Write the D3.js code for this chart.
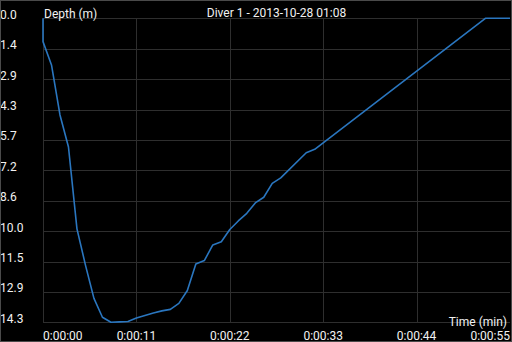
<!DOCTYPE html>
<html>
<head>
<meta charset="utf-8">
<script src="https://cdn.jsdelivr.net/npm/d3@7"></script>
<style>
  html, body { margin: 0; padding: 0; background: #000; }
  svg { display: block; }
  text { font-family: Roboto, "Noto Sans", sans-serif; fill: #f2f2f2; }
</style>
</head>
<body>
<svg id="chart" width="512" height="342"></svg>
<script>
// dive profile (seconds, metres)
let times  = [0, 0, 1, 2, 3, 4, 5, 6, 7, 8, 9, 10, 11, 12, 13, 14, 15, 16, 17, 18, 19, 20,
              21, 22, 23, 24, 25, 26, 27, 28, 31, 32, 52.1, 55];
let depths = [0, 1.10, 2.20, 4.56, 6.07, 9.93, 11.64, 13.21, 14.10, 14.34, 14.32, 14.30, 14.14,
              14.02, 13.90, 13.80, 13.73, 13.45, 12.84, 11.59, 11.43, 10.69, 10.54, 9.96, 9.56,
              9.20, 8.71, 8.44, 7.79, 7.53, 6.34, 6.18, 0, 0];

let xTicks = [0, 11, 22, 33, 44, 55];
let xTickLabels = ["0:00:00", "0:00:11", "0:00:22", "0:00:33", "0:00:44", "0:00:55"];
let yMax = 14.34;
let yTickLabels = ["0.0", "1.4", "2.9", "4.3", "5.7", "7.2", "8.6", "10.0", "11.5", "12.9", "14.3"];

let title = "Diver 1 - 2013-10-28 01:08";
let yTitle = "Depth (m)";
let xTitle = "Time (min)";

let svg = d3.select("#chart");

let x = d3.scaleLinear().domain([0, 55]).range([43, 510]);
let y = d3.scaleLinear().domain([0, yMax]).range([18.3, 322.3]);

let yTicks = yTickLabels.map((d, i) => i * yMax / 10);

// grid
svg.append("g").selectAll("line")
    .data(yTicks)
    .join("line")
    .attr("x1", x(0))
    .attr("x2", x(55))
    .attr("y1", d => Math.round(y(d)) + 0.5)
    .attr("y2", d => Math.round(y(d)) + 0.5)
    .attr("stroke", "#2e2e2e")
    .attr("stroke-width", 1);

svg.append("g").selectAll("line")
    .data(xTicks.slice(0, -1))
    .join("line")
    .attr("x1", d => Math.round(x(d)) + 0.5)
    .attr("x2", d => Math.round(x(d)) + 0.5)
    .attr("y1", y(0))
    .attr("y2", y(yMax))
    .attr("stroke", "#2e2e2e")
    .attr("stroke-width", 1);

// y labels
svg.append("g").selectAll("text")
    .data(yTicks)
    .join("text")
    .attr("x", 0)
    .attr("y", d => y(d) + 0.5)
    .attr("font-size", 12)
    .text((d, i) => yTickLabels[i]);

// x labels
svg.append("g").selectAll("text")
    .data(xTicks)
    .join("text")
    .attr("x", d => x(d))
    .attr("y", 339.5)
    .attr("font-size", 12)
    .attr("text-anchor", (d, i) => i == 0 ? "start" : (i == xTicks.length - 1 ? "end" : "middle"))
    .text((d, i) => xTickLabels[i]);

svg.append("text")
    .attr("x", (x(0) + x(55)) / 2)
    .attr("y", 16.5)
    .attr("font-size", 12)
    .attr("text-anchor", "middle")
    .text(title);

svg.append("text")
    .attr("x", 44)
    .attr("y", 18)
    .attr("font-size", 12)
    .text(yTitle);

svg.append("text")
    .attr("x", 507)
    .attr("y", 326)
    .attr("font-size", 12)
    .attr("text-anchor", "end")
    .text(xTitle);

// profile line
let line = d3.line()
    .x((d, i) => x(times[i]))
    .y(d => y(d));

svg.append("path")
    .datum(depths)
    .attr("d", line)
    .attr("fill", "none")
    .attr("stroke", "#2a76bf")
    .attr("stroke-width", 1.6)
    .attr("stroke-linejoin", "round");

// frame
svg.append("rect")
    .attr("x", 0.5)
    .attr("y", 0.5)
    .attr("width", 511)
    .attr("height", 341)
    .attr("fill", "none")
    .attr("stroke", "#4a4a4a");
</script>
</body>
</html>
